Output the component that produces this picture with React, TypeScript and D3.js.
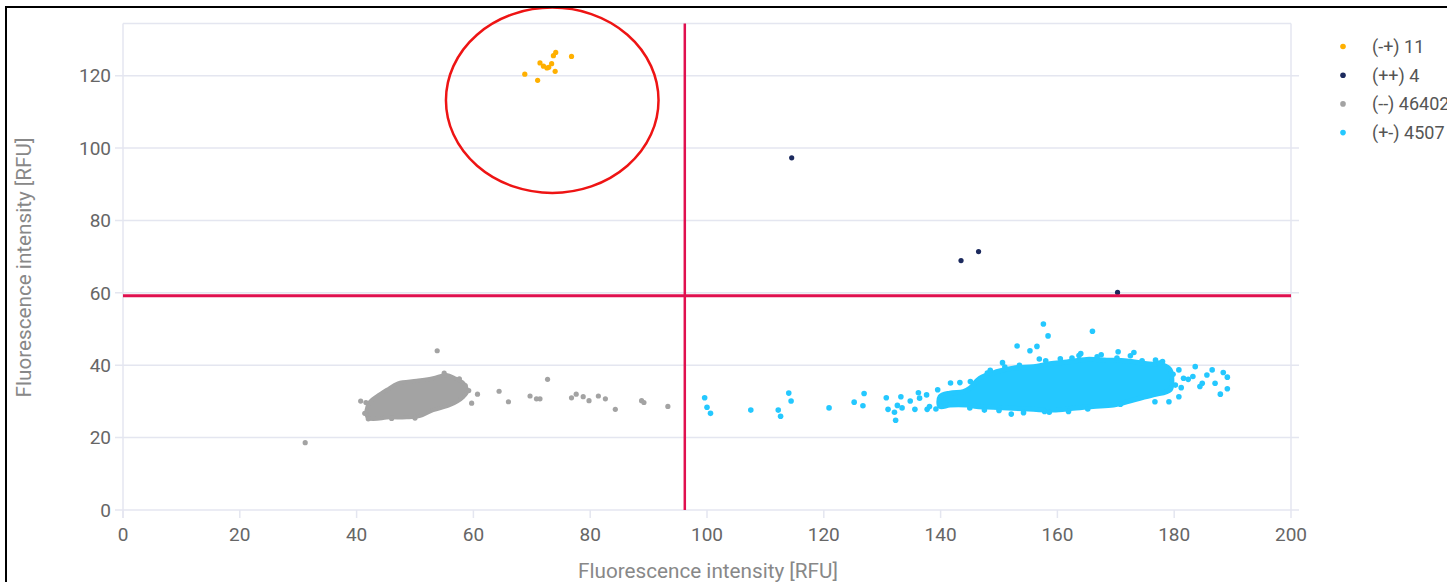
import React from "react";
import * as d3 from "d3";

const W = 1447;
const H = 582;

const xTicks = [0, 20, 40, 60, 80, 100, 120, 140, 160, 180, 200];
const yTicks = [0, 20, 40, 60, 80, 100, 120];
const xDomain = [0, 200];
const yDomain = [0, 134.4];
const xTitle = "Fluorescence intensity [RFU]";
const yTitle = "Fluorescence intensity [RFU]";

const thresholdX = 96.2;
const thresholdY = 59.2;

const legendLabels = ["(-+) 11", "(++) 4", "(--) 46402", "(+-) 4507"];
const legendColors = ["#ffb000", "#1c2a5e", "#a3a3a3", "#24c8ff"];

// (-+) cluster
const orangePoints: [number, number][] = [
  [68.8, 120.4], [71.0, 118.7], [71.4, 123.5], [72.0, 122.6], [72.6, 122.1],
  [72.9, 122.3], [73.4, 123.3], [74.0, 121.2], [73.7, 125.5], [74.1, 126.4],
  [76.8, 125.3],
];

// (++) cluster
const navyPoints: [number, number][] = [
  [114.5, 97.3], [143.5, 68.9], [146.5, 71.4], [170.3, 60.1],
];

// (--) dense core outline
const grayCore: [number, number][] = [
  [41.7, 27.6], [42.0, 25.4], [45.7, 25.6], [48.6, 25.6], [50.9, 26.0],
  [53.1, 27.6], [56.0, 29.0], [58.3, 31.3], [58.9, 32.7], [58.3, 35.0],
  [56.8, 36.4], [55.4, 37.3], [53.1, 36.4], [50.3, 35.7], [47.1, 35.0],
  [45.2, 33.2], [43.4, 31.3], [42.3, 29.9],
];
// (--) scattered points
const grayPoints: [number, number][] = [
  [53.8, 44.0], [31.2, 18.6], [60.7, 32.0], [59.7, 29.5], [64.4, 32.8],
  [66.0, 29.9], [69.7, 31.5], [70.8, 30.7], [71.4, 30.7], [72.7, 36.1],
  [76.8, 31.0], [77.6, 32.0], [78.8, 31.3], [79.8, 30.2], [81.4, 31.5],
  [82.6, 30.7], [84.3, 27.8], [88.8, 30.2], [89.2, 29.7], [93.3, 28.6],
  [40.7, 30.1], [41.6, 29.7], [41.4, 26.7], [42.0, 25.2], [55.0, 37.8],
  [57.6, 36.2], [58.6, 34.4], [59.2, 33.0], [46.0, 25.3], [50.0, 25.4],
];

// (+-) dense core outline
const blueCore: [number, number][] = [
  [145.0, 33.6], [146.7, 36.4], [149.6, 38.2], [152.4, 39.2], [155.9, 39.6],
  [158.7, 40.4], [161.6, 40.9], [165.0, 41.6], [168.4, 41.4], [171.9, 41.2],
  [175.3, 40.4], [178.1, 40.0], [179.3, 38.7], [179.6, 35.9], [179.3, 33.2],
  [176.4, 31.8], [173.0, 30.4], [169.6, 29.0], [166.1, 28.6], [162.7, 28.1],
  [159.3, 27.6], [155.9, 27.8], [152.4, 28.1], [149.0, 28.4], [146.2, 28.6],
  [144.5, 29.0], [141.6, 29.0], [139.9, 28.6], [139.9, 31.3], [141.6, 32.3],
  [143.9, 32.7],
];
// (+-) scattered points
const bluePoints: [number, number][] = [
  [157.6, 51.4], [158.4, 48.1], [166.0, 49.4], [153.1, 45.3], [155.3, 44.0],
  [156.5, 45.2], [156.9, 41.7], [170.4, 43.7], [173.1, 43.5], [150.6, 40.7],
  [163.7, 42.7], [167.5, 42.9], [178.0, 41.0],
  [107.5, 27.6], [112.2, 27.6], [112.6, 25.9], [114.0, 32.3], [114.4, 30.1],
  [120.9, 28.2], [125.2, 29.8], [126.7, 28.8], [126.9, 32.2], [130.7, 31.0],
  [131.0, 27.8], [132.1, 27.0], [132.3, 24.8], [132.6, 28.9], [133.2, 31.3],
  [133.4, 28.2], [134.8, 30.1], [135.6, 27.8], [136.2, 32.4], [136.4, 30.9],
  [137.6, 31.8], [137.7, 27.8], [138.1, 28.6], [139.2, 27.9], [139.5, 33.2],
  [141.7, 35.1], [143.3, 35.2], [145.1, 35.5],
  [99.6, 31.0], [100.0, 28.4], [100.6, 26.7],
  [180.8, 38.7], [181.6, 36.4], [183.2, 36.9], [183.6, 39.6], [184.8, 35.0],
  [185.6, 37.3], [186.5, 38.7], [187.0, 35.0], [188.4, 38.0], [189.1, 36.7],
  [189.1, 33.5], [187.9, 32.0], [180.8, 31.3], [181.2, 33.8], [182.4, 36.1],
  [184.4, 34.1], [179.1, 29.9], [176.7, 29.9], [157.8, 27.2], [161.9, 27.2],
  [152.1, 26.5], [154.2, 26.9], [148.0, 37.8], [151.0, 39.5], [160.5, 41.8],
  [164.0, 43.2], [172.5, 42.6], [176.8, 41.4], [142.5, 30.0], [147.5, 27.6],
  [148.5, 38.6], [153.5, 40.0], [158.0, 41.2], [162.5, 42.0], [166.8, 42.3],
  [170.2, 42.0], [174.5, 41.2], [177.5, 40.6], [179.8, 37.5], [180.2, 34.5],
  [170.8, 29.2], [165.2, 27.9], [158.6, 27.0], [150.0, 27.5], [145.0, 28.2],
  [140.8, 29.6],
];

// annotation ellipse (data units): cx, cy, rx, ry
const annotationEllipse = [73.5, 113.2, 18.2, 25.6];

const M = { left: 123, right: 1291, top: 23.5, bottom: 510 };

export default function App() {
  const x = d3.scaleLinear().domain(xDomain).range([M.left, M.right]);
  const y = d3.scaleLinear().domain(yDomain).range([M.bottom, M.top]);
  const area = d3
    .line<[number, number]>()
    .x((d) => x(d[0]))
    .y((d) => y(d[1]))
    .curve(d3.curveCatmullRomClosed.alpha(0.5));

  const font = "Roboto, 'Noto Sans', sans-serif";
  const grid = "#e4e6f0";
  const [ecx, ecy, erx, ery] = annotationEllipse;

  return (
    <svg
      width={W}
      height={H}
      style={{ position: "absolute", left: 0, top: 0, background: "#fff" }}
    >
      <rect x={0} y={0} width={W} height={H} fill="#fff" />
      {/* plot frame */}
      <line x1={x(0)} x2={x(200)} y1={M.top} y2={M.top} stroke={grid} strokeWidth={1.5} />
      <line x1={x(0)} x2={x(0)} y1={M.top} y2={M.bottom + 8} stroke={grid} strokeWidth={1.5} />
      <line x1={x(200)} x2={x(200)} y1={M.top} y2={M.bottom} stroke={grid} strokeWidth={1.5} />
      {yTicks.map((t) => (
        <g key={"y" + t}>
          <line x1={M.left - 8} x2={M.right + 8} y1={y(t)} y2={y(t)} stroke={grid} strokeWidth={1.5} />
          <text
            x={M.left - 12}
            y={y(t)}
            dy="0.36em"
            textAnchor="end"
            fontFamily={font}
            fontSize={19}
            fill="#666"
          >
            {t}
          </text>
        </g>
      ))}
      {xTicks.map((t) => (
        <g key={"x" + t}>
          <line x1={x(t)} x2={x(t)} y1={M.bottom} y2={M.bottom + 8} stroke={grid} strokeWidth={1.5} />
          <text
            x={x(t)}
            y={M.bottom + 31}
            textAnchor="middle"
            fontFamily={font}
            fontSize={19}
            fill="#666"
          >
            {t}
          </text>
        </g>
      ))}
      <text
        x={708}
        y={578}
        textAnchor="middle"
        fontFamily={font}
        fontSize={20.7}
        fill="#888"
      >
        {xTitle}
      </text>
      <text
        transform={`translate(31, 267.5) rotate(-90)`}
        textAnchor="middle"
        fontFamily={font}
        fontSize={20.7}
        fill="#888"
      >
        {yTitle}
      </text>

      {/* (--) */}
      <path
        d={area(grayCore) || ""}
        fill={legendColors[2]}
        stroke={legendColors[2]}
        strokeWidth={4}
        strokeLinejoin="round"
      />
      {grayPoints.map((p, i) => (
        <circle key={"g" + i} cx={x(p[0])} cy={y(p[1])} r={2.6} fill={legendColors[2]} />
      ))}
      {/* (+-) */}
      <path
        d={area(blueCore) || ""}
        fill={legendColors[3]}
        stroke={legendColors[3]}
        strokeWidth={5}
        strokeLinejoin="round"
      />
      {bluePoints.map((p, i) => (
        <circle key={"b" + i} cx={x(p[0])} cy={y(p[1])} r={2.8} fill={legendColors[3]} />
      ))}
      {/* (-+) */}
      {orangePoints.map((p, i) => (
        <circle key={"o" + i} cx={x(p[0])} cy={y(p[1])} r={2.6} fill={legendColors[0]} />
      ))}
      {/* (++) */}
      {navyPoints.map((p, i) => (
        <circle key={"n" + i} cx={x(p[0])} cy={y(p[1])} r={2.6} fill={legendColors[1]} />
      ))}

      {/* thresholds */}
      <line x1={x(0)} x2={x(200)} y1={y(thresholdY)} y2={y(thresholdY)} stroke="#e0104f" strokeWidth={3} />
      <line x1={x(thresholdX)} x2={x(thresholdX)} y1={y(0)} y2={M.top} stroke="#e0104f" strokeWidth={2.5} />

      {/* annotation */}
      <ellipse
        cx={x(ecx)}
        cy={y(ecy)}
        rx={x(ecx + erx) - x(ecx)}
        ry={y(ecy) - y(ecy + ery)}
        fill="none"
        stroke="#ee1414"
        strokeWidth={2.5}
      />

      {/* legend */}
      {legendLabels.map((l, i) => (
        <g key={l} transform={`translate(1343, ${46.5 + i * 28.7})`}>
          <circle cx={0} cy={0} r={2.8} fill={legendColors[i]} />
          <text x={29} y={0} dy="0.36em" fontFamily={font} fontSize={18} fill="#555">
            {l}
          </text>
        </g>
      ))}

      {/* outer frame */}
      <rect x={6} y={7} width={W + 20} height={H + 20} fill="none" stroke="#000" strokeWidth={2} />
    </svg>
  );
}
